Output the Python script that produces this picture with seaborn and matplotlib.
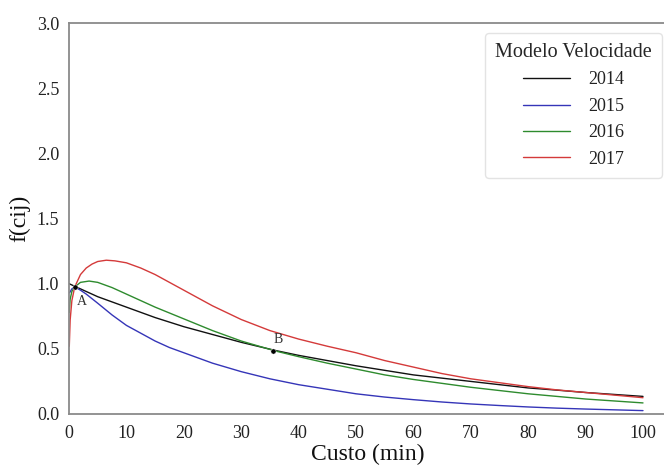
import matplotlib
matplotlib.use("Agg")
import matplotlib.pyplot as plt
import seaborn as sns
import pandas as pd
import numpy as np

# ---- data ----
years = ["2014", "2015", "2016", "2017"]
colors = ["#111111", "#3535b8", "#2e8b2e", "#d43a3a"]

x_2014 = [0, 1, 2, 5, 10, 15, 20, 25, 30, 36, 40, 45, 50, 55, 60, 65, 70, 75, 80, 85, 90, 95, 100]
y_2014 = [1.0, 0.98, 0.96, 0.90, 0.82, 0.74, 0.67, 0.61, 0.55, 0.487, 0.45, 0.41, 0.37, 0.335, 0.30, 0.275, 0.25, 0.225, 0.20, 0.183, 0.165, 0.15, 0.135]

x_2015 = [0.1, 0.5, 1, 2, 3, 5, 7.5, 10, 12.5, 15, 17.5, 20, 25, 30, 35, 40, 45, 50, 55, 60, 65, 70, 75, 80, 85, 90, 95, 100]
y_2015 = [0.93, 0.96, 0.975, 0.95, 0.92, 0.85, 0.76, 0.68, 0.62, 0.56, 0.51, 0.47, 0.39, 0.325, 0.27, 0.225, 0.19, 0.155, 0.13, 0.11, 0.092, 0.077, 0.065, 0.054, 0.045, 0.038, 0.032, 0.026]

x_2016 = [0.05, 0.2, 0.5, 1, 2, 3.5, 5, 7.5, 10, 12.5, 15, 17.5, 20, 25, 30, 36, 40, 45, 50, 55, 60, 65, 70, 75, 80, 85, 90, 95, 100]
y_2016 = [0.78, 0.88, 0.94, 0.975, 1.01, 1.02, 1.01, 0.97, 0.92, 0.87, 0.82, 0.775, 0.73, 0.64, 0.56, 0.483, 0.44, 0.39, 0.345, 0.30, 0.265, 0.235, 0.205, 0.18, 0.155, 0.135, 0.115, 0.10, 0.085]

x_2017 = [0.05, 0.2, 0.5, 1, 2, 3, 4, 5, 6.5, 8, 10, 12.5, 15, 17.5, 20, 22.5, 25, 30, 35, 40, 45, 50, 55, 60, 65, 70, 75, 80, 85, 90, 95, 100]
y_2017 = [0.52, 0.72, 0.87, 0.975, 1.07, 1.12, 1.15, 1.17, 1.18, 1.175, 1.16, 1.12, 1.07, 1.01, 0.95, 0.89, 0.83, 0.725, 0.64, 0.575, 0.52, 0.47, 0.41, 0.36, 0.31, 0.27, 0.24, 0.21, 0.185, 0.165, 0.145, 0.125]

point_labels = ["A", "B"]
point_x = [1.05, 35.6]
point_y = [0.975, 0.485]

# ---- build long table ----
frames = []
for yr, xs, ys in zip(years, [x_2014, x_2015, x_2016, x_2017], [y_2014, y_2015, y_2016, y_2017]):
    frames.append(pd.DataFrame({"Custo": xs, "f": ys, "Modelo Velocidade": yr}))
df = pd.concat(frames, ignore_index=True)

sns.set_style("white")
plt.rcParams["font.family"] = ["Liberation Serif", "DejaVu Serif"]

fig = plt.figure(figsize=(6.64, 4.68), dpi=100)
left = 69 / 664
bottom = (468 - 414) / 468
height = (414 - 23) / 468
xmax = 104
width = (xmax * 5.74) / 664
ax = fig.add_axes([left, bottom, width, height])

sns.lineplot(data=df, x="Custo", y="f", hue="Modelo Velocidade",
             palette=dict(zip(years, colors)), linewidth=1.0, ax=ax,
             estimator=None, sort=False)

sns.scatterplot(x=point_x, y=point_y, color="black", s=14, ax=ax, zorder=5, legend=False)
ax.text(point_x[0] + 0.3, point_y[0] - 0.06, point_labels[0], fontsize=10,
        color="#333333", ha="left", va="top")
ax.text(point_x[1] + 0.8, point_y[1] + 0.04, point_labels[1], fontsize=10,
        color="#333333", ha="center", va="bottom")

ax.set_xlim(0, xmax)
ax.set_ylim(0, 3.0)
ax.set_xticks(range(0, 101, 10))
ax.set_yticks([0.0, 0.5, 1.0, 1.5, 2.0, 2.5, 3.0])
ax.set_yticklabels(["0.0", "0.5", "1.0", "1.5", "2.0", "2.5", "3.0"])
ax.tick_params(axis="x", length=0, labelsize=13, pad=8, labelcolor="#222222")
ax.tick_params(axis="y", length=0, labelsize=13, pad=7, labelcolor="#222222")
ax.set_xlabel("Custo (min)", fontsize=17, color="#111111", labelpad=1)
ax.set_ylabel("f(cij)", fontsize=17, color="#111111", labelpad=5)

for side in ["left", "bottom", "top"]:
    ax.spines[side].set_color("#8a8a8a")
    ax.spines[side].set_linewidth(1.3)
ax.spines["right"].set_visible(False)

leg = ax.legend(title="Modelo Velocidade", loc="upper right",
                bbox_to_anchor=(0.993, 0.974), borderaxespad=0,
                fontsize=13, title_fontsize=14.5,
                frameon=True, handlelength=2.6, handletextpad=1.0,
                labelspacing=0.52, borderpad=0.55)
leg.get_frame().set_edgecolor("#dddddd")
leg._legend_box.align = "center"
for t in leg.get_texts():
    t.set_color("#222222")

fig.savefig("out.png", dpi=100)
